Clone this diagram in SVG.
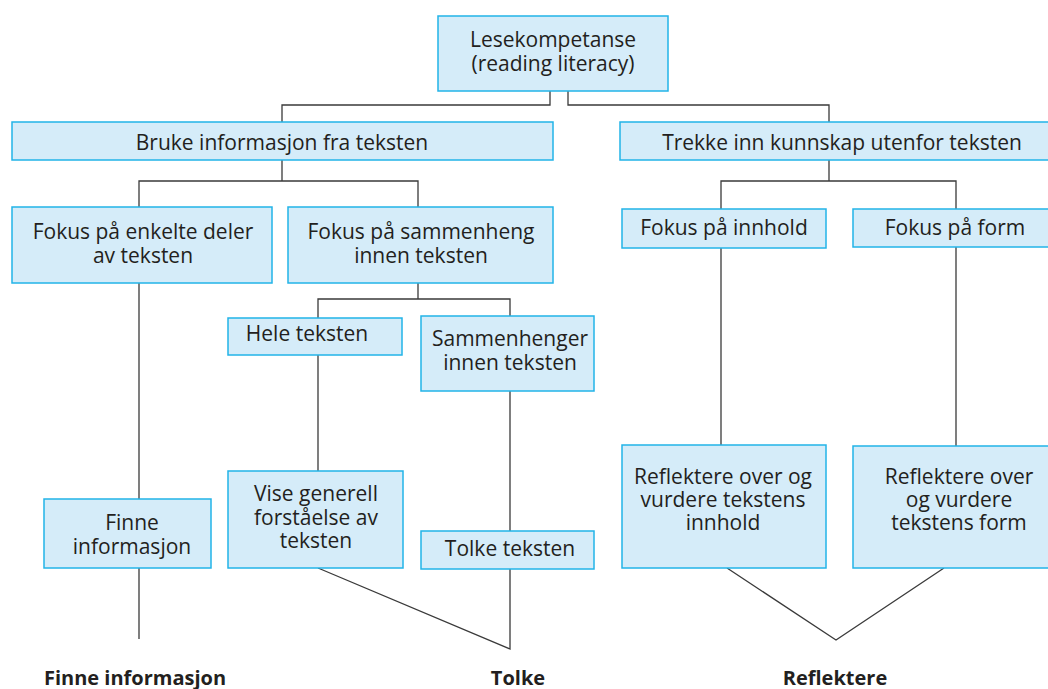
<svg xmlns="http://www.w3.org/2000/svg" width="1048" height="689" viewBox="0 0 1048 689">
  <style>
    .box { fill: #d5ecf9; stroke: #22b4e8; stroke-width: 1.5; }
    .lbl { font-family: "Open Sans", "Liberation Sans", sans-serif; font-size: 21px; fill: #231f20; text-anchor: middle; }
    .cat { font-family: "Open Sans", "Liberation Sans", sans-serif; font-size: 20px; font-weight: bold; fill: #231f20; text-anchor: middle; }
    .link { fill: none; stroke: #3a3a3a; stroke-width: 1.3; }
  </style>
  <rect width="1048" height="689" fill="#ffffff"/>

  <g id="connectors">
    <polyline class="link" points="550,91 550,105 282,105 282,122"/>
    <polyline class="link" points="568,91 568,105 829,105 829,122"/>
    <line class="link" x1="282" y1="160" x2="282" y2="181"/>
    <polyline class="link" points="139,207 139,181 418,181 418,207"/>
    <line class="link" x1="829" y1="160" x2="829" y2="181"/>
    <polyline class="link" points="721,209 721,181 956,181 956,209"/>
    <line class="link" x1="139" y1="283" x2="139" y2="499"/>
    <line class="link" x1="139" y1="568" x2="139" y2="639"/>
    <line class="link" x1="418" y1="283" x2="418" y2="299"/>
    <polyline class="link" points="318,318 318,299 510,299 510,316"/>
    <line class="link" x1="318" y1="355" x2="318" y2="471"/>
    <line class="link" x1="510" y1="391" x2="510" y2="531"/>
    <polyline class="link" points="318,568 510,649 510,569"/>
    <line class="link" x1="721" y1="248" x2="721" y2="445"/>
    <line class="link" x1="956" y1="247" x2="956" y2="446"/>
    <polyline class="link" points="727,568 836,640 944,568"/>
  </g>

  <g id="lesekompetanse">
    <rect class="box" x="438" y="16" width="230" height="75"/>
    <text class="lbl"><tspan x="553" y="47">Lesekompetanse</tspan><tspan x="553" y="71">(reading literacy)</tspan></text>
  </g>

  <g id="bruke">
    <rect class="box" x="12" y="122" width="541" height="38"/>
    <text class="lbl" x="282" y="150">Bruke informasjon fra teksten</text>
  </g>

  <g id="trekke">
    <rect class="box" x="620" y="122" width="432" height="38"/>
    <text class="lbl" x="842" y="150">Trekke inn kunnskap utenfor teksten</text>
  </g>

  <g id="fokus-enkelte">
    <rect class="box" x="12" y="207" width="260" height="76"/>
    <text class="lbl"><tspan x="143" y="239">Fokus på enkelte deler</tspan><tspan x="143" y="263">av teksten</tspan></text>
  </g>

  <g id="fokus-sammenheng">
    <rect class="box" x="288" y="207" width="265" height="76"/>
    <text class="lbl"><tspan x="421" y="239">Fokus på sammenheng</tspan><tspan x="421" y="263">innen teksten</tspan></text>
  </g>

  <g id="fokus-innhold">
    <rect class="box" x="622" y="209" width="204" height="39"/>
    <text class="lbl" x="724" y="235">Fokus på innhold</text>
  </g>

  <g id="fokus-form">
    <rect class="box" x="853" y="209" width="200" height="38"/>
    <text class="lbl" x="955" y="235">Fokus på form</text>
  </g>

  <g id="hele-teksten">
    <rect class="box" x="228" y="318" width="174" height="37"/>
    <text class="lbl" x="307" y="341">Hele teksten</text>
  </g>

  <g id="sammenhenger">
    <rect class="box" x="421" y="316" width="173" height="75"/>
    <text class="lbl"><tspan x="510" y="346">Sammenhenger</tspan><tspan x="510" y="370">innen teksten</tspan></text>
  </g>

  <g id="finne">
    <rect class="box" x="44" y="499" width="167" height="69"/>
    <text class="lbl"><tspan x="132" y="530">Finne</tspan><tspan x="132" y="554">informasjon</tspan></text>
  </g>

  <g id="vise">
    <rect class="box" x="228" y="471" width="175" height="97"/>
    <text class="lbl"><tspan x="316" y="501">Vise generell</tspan><tspan x="316" y="525">forståelse av</tspan><tspan x="316" y="548">teksten</tspan></text>
  </g>

  <g id="tolke-teksten">
    <rect class="box" x="421" y="531" width="173" height="38"/>
    <text class="lbl" x="510" y="556">Tolke teksten</text>
  </g>

  <g id="reflektere-innhold">
    <rect class="box" x="622" y="445" width="204" height="123"/>
    <text class="lbl"><tspan x="723" y="484">Reflektere over og</tspan><tspan x="723" y="507">vurdere tekstens</tspan><tspan x="723" y="530">innhold</tspan></text>
  </g>

  <g id="reflektere-form">
    <rect class="box" x="853" y="446" width="200" height="122"/>
    <text class="lbl"><tspan x="959" y="484">Reflektere over</tspan><tspan x="959" y="507">og vurdere</tspan><tspan x="959" y="530">tekstens form</tspan></text>
  </g>

  <g id="categories">
    <text class="cat" x="135" y="685">Finne informasjon</text>
    <text class="cat" x="518" y="685">Tolke</text>
    <text class="cat" x="835" y="685">Reflektere</text>
  </g>
</svg>
